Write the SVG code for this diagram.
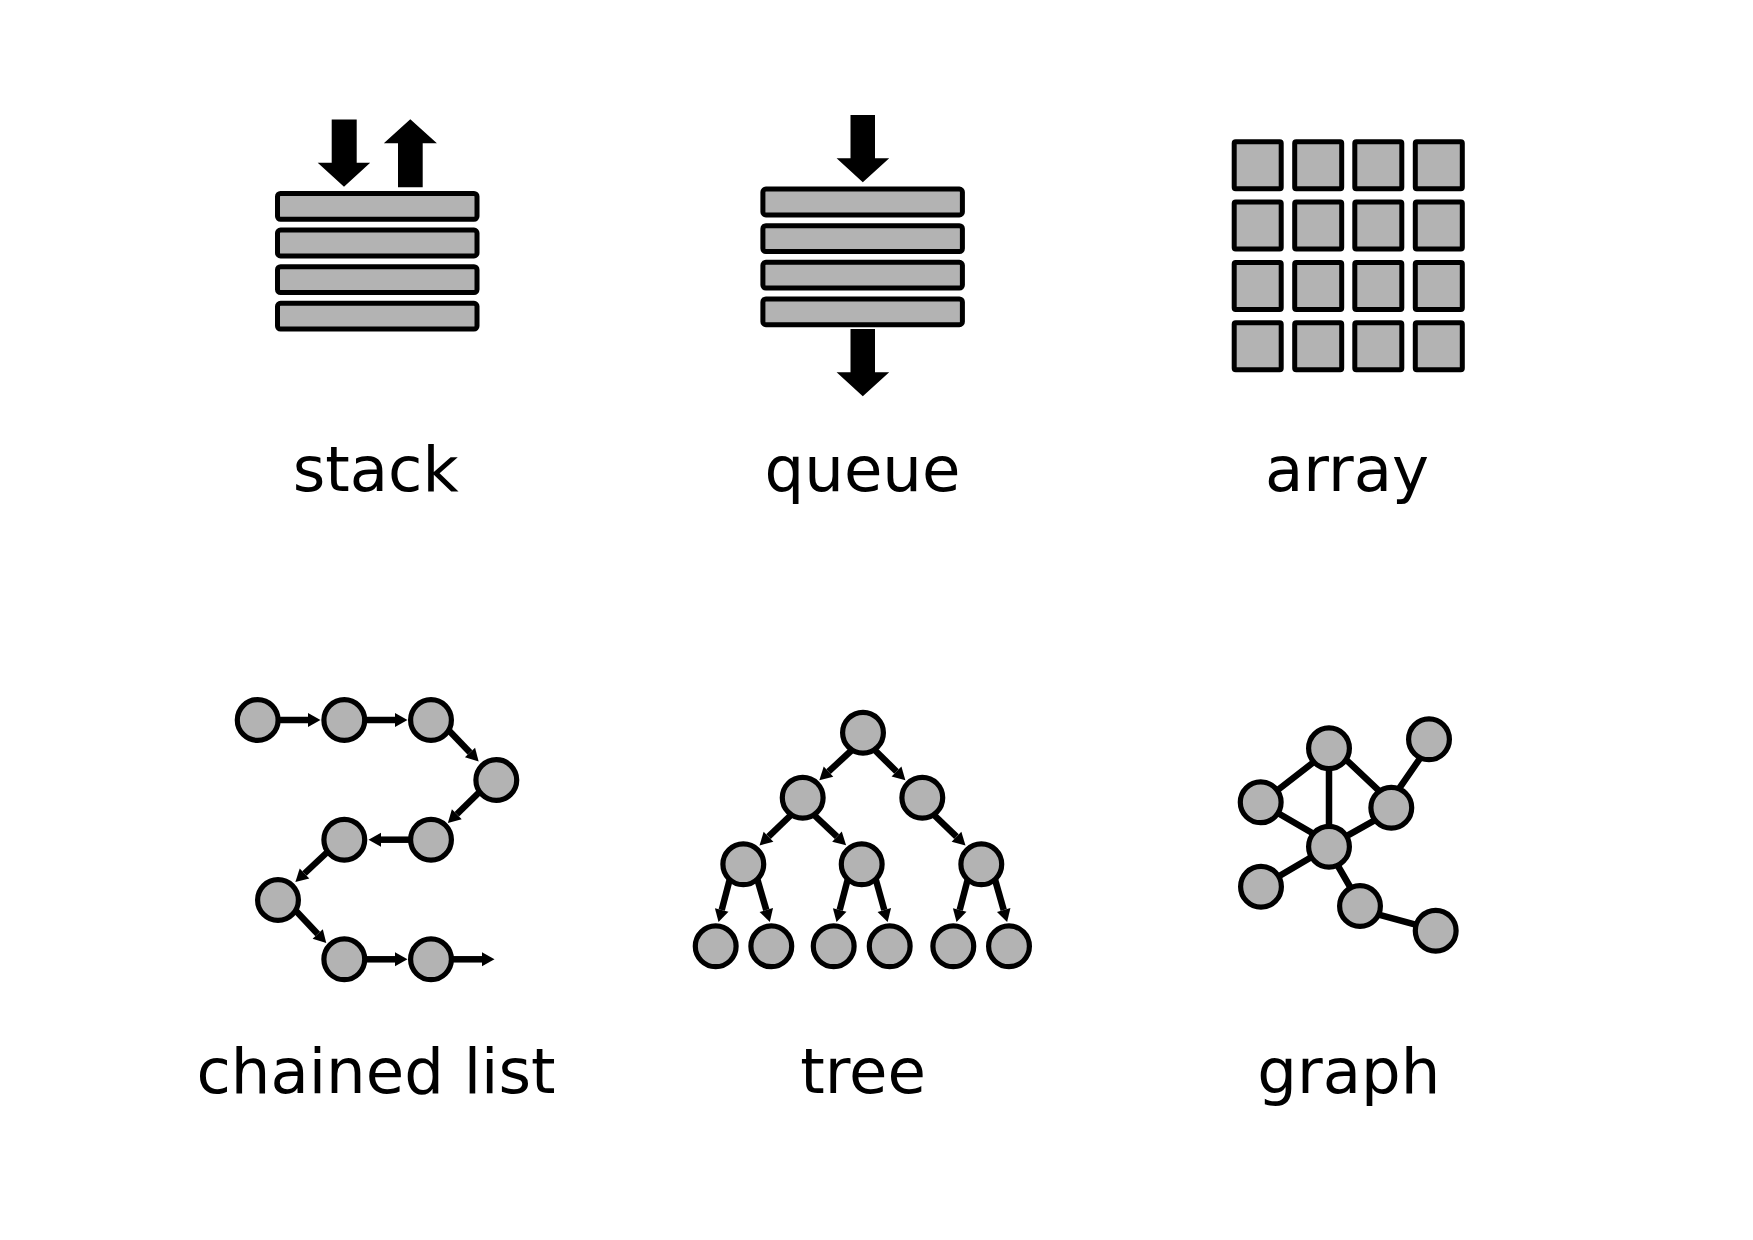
<svg xmlns="http://www.w3.org/2000/svg" width="1753" height="1240" viewBox="0 0 1753 1240">
<style>
text{font-family:"DejaVu Sans",sans-serif;font-size:62.5px;text-anchor:middle;fill:#000}
.s{fill:#b3b3b3;stroke:#000;stroke-width:5}
circle{fill:#b3b3b3;stroke:#000;stroke-width:5.2;r:20.4px}
.l{stroke:#000;stroke-width:6.5;fill:none}
.a{marker-end:url(#h)}
</style>
<defs>
<marker id="h" markerUnits="userSpaceOnUse" markerWidth="14" markerHeight="14" refX="0" refY="7" orient="auto" overflow="visible"><path d="M0 0L12.5 7L0 14Z"/></marker>
<g id="bars"><rect class="s" x="277.5" y="193.5" width="199.5" height="25.8" rx="3"/><rect class="s" x="277.5" y="230.1" width="199.5" height="25.8" rx="3"/><rect class="s" x="277.5" y="266.7" width="199.5" height="25.8" rx="3"/><rect class="s" x="277.5" y="303.3" width="199.5" height="25.8" rx="3"/></g>
</defs>
<rect width="1753" height="1240" fill="#fff"/>
<g id="connectors">
<g class="l">
<path class="a" d="M276 720H308"/><path class="a" d="M363 720H395"/>
<path class="a" d="M447 728.5L470 752.5"/><path class="a" d="M481.5 790L456.8 814.2"/>
<path class="a" d="M412 839.7H381"/><path class="a" d="M329.5 850L304.5 873.5"/>
<path class="a" d="M294 908.8L317.7 934"/><path class="a" d="M363 959.3H395"/><path class="a" d="M450 959.3H482"/>
<path class="a" d="M853 749L828.5 771.7"/><path class="a" d="M873.7 749L896.5 771.5"/>
<path class="a" d="M792 814L768.5 836.7"/><path class="a" d="M813 814L837 836.7"/><path class="a" d="M933 814L956.5 836.7"/>
<path class="a" d="M729.7 879.5L721.7 910"/><path class="a" d="M757.4 879.5L766.3 910"/>
<path class="a" d="M847.7 879.5L839.7 910"/><path class="a" d="M875.8 879.5L884.3 910"/>
<path class="a" d="M967.7 879.5L959.7 910"/><path class="a" d="M995 879.5L1003.7 910"/>
<path d="M1275.5 791.8L1314.5 761.5M1329 748.3V846.7M1343.8 757.5L1382.8 794.3M1397 791.6L1423 754M1273.5 810.5L1314.8 834.5M1344.3 837.3L1379 817.8M1261 886.7L1329 846.7M1337.7 865.5L1351.6 889.5M1375 913.6L1418.3 925.4"/>
</g>
</g>
<g id="stack">
<use href="#bars"/>
<path d="M331.7 119.5H356.7V162.8H370.2L344 186.8L317.7 162.8H331.7Z"/>
<path d="M410.3 119.3L436.9 143.3H422.7V187.3H398V143.3H383.8Z"/>
<text x="375.7" y="491">stack</text>
</g>
<g id="queue">
<use href="#bars" x="485.4" y="-4.4"/>
<path d="M850.5 115H875V158.3H889.2L862.8 182.3L836.6 158.3H850.5Z"/>
<path d="M850.5 329H875V372.3H889.2L862.8 396.3L836.6 372.3H850.5Z"/>
<text x="862.5" y="491">queue</text>
</g>
<g id="array">
<g class="s">
<rect x="1234.2" y="141.7" width="47" height="47" rx="1.5"/><rect x="1294.7" y="141.7" width="47" height="47" rx="1.5"/><rect x="1354.8" y="141.7" width="47" height="47" rx="1.5"/><rect x="1415.3" y="141.7" width="47" height="47" rx="1.5"/>
<rect x="1234.2" y="202" width="47" height="47" rx="1.5"/><rect x="1294.7" y="202" width="47" height="47" rx="1.5"/><rect x="1354.8" y="202" width="47" height="47" rx="1.5"/><rect x="1415.3" y="202" width="47" height="47" rx="1.5"/>
<rect x="1234.2" y="262.4" width="47" height="47" rx="1.5"/><rect x="1294.7" y="262.4" width="47" height="47" rx="1.5"/><rect x="1354.8" y="262.4" width="47" height="47" rx="1.5"/><rect x="1415.3" y="262.4" width="47" height="47" rx="1.5"/>
<rect x="1234.2" y="322.8" width="47" height="47" rx="1.5"/><rect x="1294.7" y="322.8" width="47" height="47" rx="1.5"/><rect x="1354.8" y="322.8" width="47" height="47" rx="1.5"/><rect x="1415.3" y="322.8" width="47" height="47" rx="1.5"/>
</g>
<text x="1347" y="491">array</text>
</g>
<g id="chained-list">
<circle cx="257.7" cy="720" r="20.4"/><circle cx="344.3" cy="720" r="20.4"/><circle cx="431" cy="720" r="20.4"/><circle cx="496.3" cy="780" r="20.4"/><circle cx="431" cy="839.7" r="20.4"/><circle cx="344.3" cy="839.7" r="20.4"/><circle cx="278" cy="900" r="20.4"/><circle cx="344.3" cy="959.3" r="20.4"/><circle cx="431" cy="959.3" r="20.4"/>
<text x="376" y="1093">chained list</text>
</g>
<g id="tree">
<circle cx="863" cy="732.7" r="20.4"/><circle cx="802.7" cy="797.7" r="20.4"/><circle cx="922.3" cy="797.7" r="20.4"/><circle cx="743.3" cy="864.3" r="20.4"/><circle cx="861.7" cy="864.3" r="20.4"/><circle cx="981.3" cy="864.3" r="20.4"/><circle cx="715.7" cy="946.3" r="20.4"/><circle cx="771.3" cy="946.3" r="20.4"/><circle cx="833.7" cy="946.3" r="20.4"/><circle cx="889.7" cy="946.3" r="20.4"/><circle cx="953.3" cy="946.3" r="20.4"/><circle cx="1009" cy="946.3" r="20.4"/>
<text x="863" y="1093">tree</text>
</g>
<g id="graph">
<circle cx="1329" cy="748.3" r="20.4"/><circle cx="1260.7" cy="802.3" r="20.4"/><circle cx="1391.3" cy="807.7" r="20.4"/><circle cx="1429" cy="739.3" r="20.4"/><circle cx="1329" cy="846.7" r="20.4"/><circle cx="1261" cy="886.7" r="20.4"/><circle cx="1360" cy="906" r="20.4"/><circle cx="1435.7" cy="930.7" r="20.4"/>
<text x="1348.8" y="1093">graph</text>
</g>
</svg>
